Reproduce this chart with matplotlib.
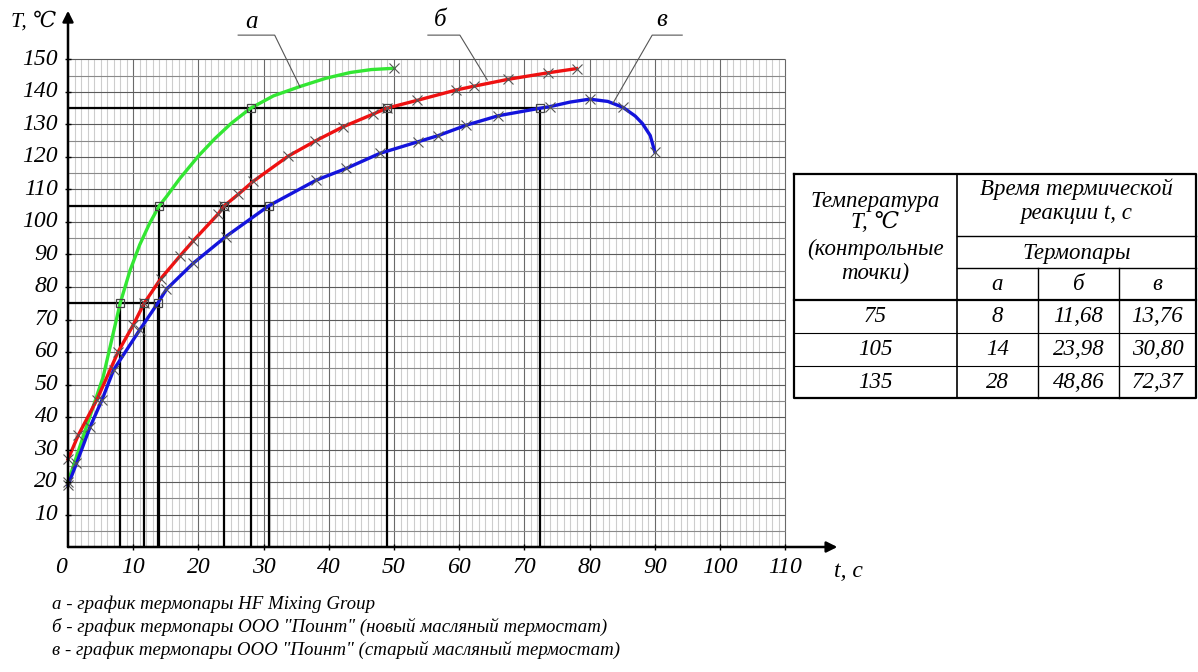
import numpy as np
import matplotlib.pyplot as plt

plt.rcParams['font.family'] = ['Liberation Serif', 'DejaVu Serif']
plt.rcParams['font.style'] = 'italic'

# кривые: t, c и T, °C
# а - HF Mixing Group
t_a = [0, 1.5, 3, 5.4, 8, 9.5, 11, 12.5, 14, 15.1, 17.2, 20, 22.5, 25, 28, 31.5, 35.6,
       39.5, 43.3, 46.5, 50]
T_a = [20, 29, 38, 52.4, 75, 85, 93, 99.5, 105, 107.8, 113.5, 120.3, 125.6, 130.3, 135, 138.8, 141.7,
       144.2, 146, 146.9, 147.3]
# б - ООО "Поинт" (новый)
t_b = [0, 1.6, 4.4, 7.7, 10, 11.68, 14.2, 17.2, 19.2, 23, 23.98, 26.1, 28.4, 33.8, 37.9,
       42.2, 46.8, 48.86, 53.5, 59.5, 62.3, 67.5, 73.6, 78]
T_b = [27, 34.5, 45.2, 60.1, 68.3, 75, 82.5, 89.6, 94.2, 102.4, 105, 108.5, 112.5, 120.3, 124.9,
       129.3, 133.2, 135, 137.4, 140.6, 141.8, 143.9, 145.9, 147.2]
# в - ООО "Поинт" (старый)
t_v = [0, 1.3, 3.4, 5.2, 7.0, 11, 13.76, 15.1, 17.2, 19.2, 24.2, 30.8, 38.1, 42.7, 47.8,
       53.7, 56.8, 61.1, 66, 72.37, 73.9, 77, 80, 82.8, 85.1, 87, 88.1, 89.3, 90]
T_v = [19, 25.7, 37, 45.2, 54.5, 66.8, 75, 79.3, 83.4, 87.3, 95.5, 105, 112.9, 116.5, 121.1,
       124.7, 126.6, 129.8, 132.7, 135, 135.5, 136.9, 137.8, 137.1, 135.3, 132.6, 130.3, 126.6, 121.6]
# метки "x" на кривых
tm_a = [0, 50]
Tm_a = [20, 147.3]
tm_v = [0, 1.3, 3.4, 5.2, 7.0, 11, 15.1, 19.2, 24.2, 38.1, 42.7, 47.8,
        53.7, 56.8, 61.1, 66, 73.9, 80, 85.1, 90]
Tm_v = [19, 25.7, 37, 45.2, 54.5, 66.8, 79.3, 87.3, 95.5, 112.9, 116.5, 121.1,
        124.7, 126.6, 129.8, 132.7, 135.5, 137.8, 135.3, 121.6]

# контрольные точки (таблица)
T_ctrl = [75, 105, 135]
tc_a = [8, 14, 28]
tc_b = [11.68, 23.98, 48.86]
tc_v = [13.76, 30.80, 72.37]

x_ticks = list(range(0, 111, 10))
y_ticks = list(range(10, 151, 10))

legend_lines = [
    'а - график термопары HF Mixing Group',
    'б - график термопары ООО "Поинт" (новый масляный термостат)',
    'в - график термопары ООО "Поинт" (старый масляный термостат)',
]

W, H = 1198, 672
fig = plt.figure(figsize=(W / 100, H / 100), dpi=100)

# масштаб в пикселях
x0, kx = 68, 6.52
y0, ky = 547, 3.25
xlim = (-2, 119)
ylim = (-6, 167)
left = x0 + xlim[0] * kx
right = x0 + xlim[1] * kx
top = y0 - ylim[1] * ky
bottom = y0 - ylim[0] * ky
ax = fig.add_axes([left / W, 1 - bottom / H, (right - left) / W, (bottom - top) / H])
ax.set_xlim(xlim)
ax.set_ylim(ylim)
ax.axis('off')

# миллиметровка
xs = np.arange(1, 110)
ax.vlines([x for x in xs if x % 10], 0, 150, color='#cdcdcd', lw=0.8, zorder=1)
ax.vlines(np.arange(10, 111, 10), 0, 150, color='#6a6a6a', lw=0.8, zorder=1)
ax.hlines(np.arange(5, 150, 10), 0, 110, color='#8a8a8a', lw=0.8, zorder=1)
ax.hlines(np.arange(10, 151, 10), 0, 110, color='#5a5a5a', lw=0.8, zorder=1)

# линии контрольных точек
for i, T in enumerate(T_ctrl):
    ts = [tc_a[i], tc_b[i], tc_v[i]]
    ax.vlines(ts, 0, T, color='black', lw=1.6, zorder=2)
    ax.hlines(T, 0, max(ts), color='black', lw=1.6, zorder=2)

# кривые
ax.plot(t_a, T_a, color='#33e633', lw=2.4, zorder=3, solid_joinstyle='round')
ax.plot(t_b, T_b, color='#ee1111', lw=2.4, zorder=3, solid_joinstyle='round')
ax.plot(t_v, T_v, color='#1414dc', lw=2.4, zorder=3, solid_joinstyle='round')
ax.plot(tm_a, Tm_a, 'x', color='#555555', ms=7, mew=0.8, zorder=4)
ax.plot(t_b, T_b, 'x', color='#555555', ms=7, mew=0.8, zorder=4)
ax.plot(tm_v, Tm_v, 'x', color='#555555', ms=7, mew=0.8, zorder=4)
for tc in (tc_a, tc_b, tc_v):
    ax.plot(tc, T_ctrl, 's', mfc='none', mec='#444444', ms=6, mew=0.9, zorder=4)

# оси
arrow = dict(arrowstyle='-|>', color='black', lw=1.8, mutation_scale=16, shrinkA=0, shrinkB=0)
ax.annotate('', xy=(118, 0), xytext=(0, 0), arrowprops=arrow, zorder=5)
ax.annotate('', xy=(0, 165), xytext=(0, 0), arrowprops=arrow, zorder=5)
ax.plot(x_ticks[1:], [0] * (len(x_ticks) - 1), '|', color='black', ms=5, zorder=5)
ax.plot([0] * len(y_ticks), y_ticks, '_', color='black', ms=5, zorder=5)

for v in x_ticks:
    ax.text(v if v else -1.0, -6.4, str(v), ha='center', va='center', fontsize=17)
for v in y_ticks:
    ax.text(-1.5, v, str(v), ha='right', va='center', fontsize=17)
ax.text(-8.7, 161.5, 'T, ℃', ha='left', va='center', fontsize=15.5)
ax.text(117.5, -7.5, 't, с', ha='left', va='center', fontsize=17)

# подписи кривых
lead = dict(color='#555555', lw=0.8, zorder=5, clip_on=False)
ax.plot([26.1, 31.7, 35.6], [157.5, 157.5, 141.5], **lead)
ax.plot([55.2, 60.1, 64.3], [157.5, 157.5, 143.7], **lead)
ax.plot([94.2, 89.6, 83.6], [157.5, 157.5, 136.6], **lead)
ax.text(28.2, 161.5, 'а', ha='center', va='center', fontsize=18)
ax.text(57.1, 162.2, 'б', ha='center', va='center', fontsize=18)
ax.text(91.1, 162.2, 'в', ha='center', va='center', fontsize=18)

# таблица и пояснения в пикселях
tx = fig.add_axes([0, 0, 1, 1])
tx.set_xlim(0, W)
tx.set_ylim(H, 0)
tx.axis('off')

L, C1, C2, C3, R = 794, 957, 1038, 1119, 1196
rows = [174, 236, 268, 300, 333, 366, 398]
tx.plot([L, R, R, L, L], [rows[0], rows[0], rows[-1], rows[-1], rows[0]], color='black', lw=1.6)
tx.plot([C1, C1], [rows[0], rows[-1]], color='black', lw=1.2)
tx.plot([C1, R], [rows[1], rows[1]], color='black', lw=1.0)
tx.plot([C1, R], [rows[2], rows[2]], color='black', lw=1.0)
tx.plot([L, R], [rows[3], rows[3]], color='black', lw=1.6)
tx.plot([L, R], [rows[4], rows[4]], color='black', lw=0.8)
tx.plot([L, R], [rows[5], rows[5]], color='black', lw=0.8)
tx.plot([C2, C2], [rows[2], rows[-1]], color='black', lw=1.0)
tx.plot([C3, C3], [rows[2], rows[-1]], color='black', lw=1.0)

fs = 16.5
xc1 = (L + C1) / 2
for txt, yy in zip(['Температура', 'T, ℃', '(контрольные', 'точки)'], [202, 223, 249, 273]):
    tx.text(xc1, yy, txt, ha='center', va='center', fontsize=fs)
xr = (C1 + R) / 2
tx.text(xr, 189, 'Время термической', ha='center', va='center', fontsize=fs)
tx.text(xr, 214, 'реакции t, с', ha='center', va='center', fontsize=fs)
tx.text(xr, 253, 'Термопары', ha='center', va='center', fontsize=fs)
cx = [(C1 + C2) / 2, (C2 + C3) / 2, (C3 + R) / 2]
for c, s in zip(cx, ['а', 'б', 'в']):
    tx.text(c, 284, s, ha='center', va='center', fontsize=fs)
for i, T in enumerate(T_ctrl):
    yy = (rows[3 + i] + rows[4 + i]) / 2
    tx.text(xc1, yy, str(T), ha='center', va='center', fontsize=fs)
    vals = [str(tc_a[i]), f'{tc_b[i]:.2f}'.replace('.', ','), f'{tc_v[i]:.2f}'.replace('.', ',')]
    for c, s in zip(cx, vals):
        tx.text(c, yy, s, ha='center', va='center', fontsize=fs)

for s, yy in zip(legend_lines, [604, 627, 650]):
    tx.text(52, yy, s, ha='left', va='center', fontsize=13.6)

fig.savefig('out.png', dpi=100)
